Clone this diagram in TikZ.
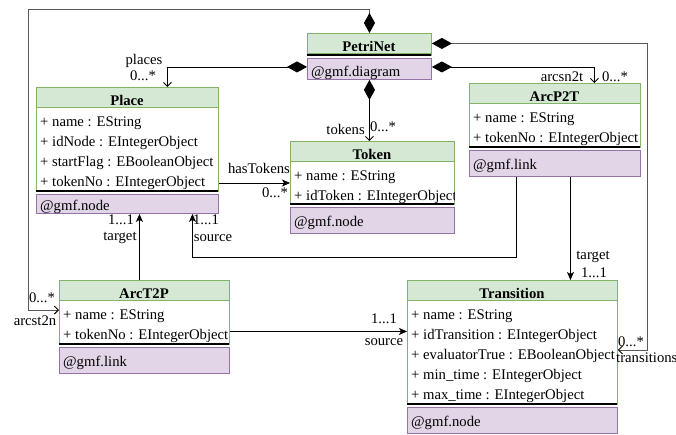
\documentclass[tikz,border=0pt]{standalone}
\usepackage{fontspec}
\setmainfont{Liberation Serif}
\usetikzlibrary{arrows.meta,calc}

\definecolor{hdrfill}{HTML}{D5E8D4}
\definecolor{hdrline}{HTML}{82B366}
\definecolor{opfill}{HTML}{E1D5E7}
\definecolor{opline}{HTML}{9673A6}

\tikzset{
  umlfont/.style={font=\fontsize{14.7}{17}\selectfont},
  hdrbox/.style={draw=hdrline, fill=hdrfill, line width=0.9pt, anchor=north west,
                 inner sep=0pt, minimum height=20pt},
  attrbox/.style={draw=hdrline, fill=white, line width=0.9pt, anchor=north west, inner sep=0pt},
  opbox/.style={draw=opline, fill=opfill, line width=0.9pt, anchor=north west, inner sep=0pt},
  sepline/.style={draw=black, line width=1.1pt},
  titletext/.style={umlfont, font=\fontsize{14.7}{17}\selectfont\bfseries, anchor=base, inner sep=0pt},
  rowtext/.style={umlfont, anchor=base west, inner sep=0pt},
  lbl/.style={umlfont, inner sep=0pt},
  conn/.style={line width=0.9pt, draw=black},
  loopline/.style={line width=0.9pt, draw=black!65},
  compose/.style={{Diamond[length=20pt,width=11pt,color=black,fill=black]}-{Straight Barb[length=4pt,width=8pt,color=black]}},
  refarrow/.style={-{Stealth[length=8pt,width=7pt,inset=2pt]}},
}

% id, left, top, width, title, attribute-area height, attribute rows, operation text, operation-area height
\newcommand{\umlclass}[9]{%
  \pgfmathsetmacro{\ucHb}{#3+20}%
  \pgfmathsetmacro{\ucSep}{\ucHb+#6}%
  \pgfmathsetmacro{\ucOp}{\ucSep+3}%
  \pgfmathsetmacro{\ucOpBase}{\ucOp+min(19.5,#9-2.5)}%
  \node[hdrbox, minimum width=#4pt] (#1H) at (#2,#3) {};
  \node[titletext] (#1T) at (#2+#4/2,\ucHb-1.5) {#5};
  \node[attrbox, minimum width=#4pt, minimum height=#6pt] (#1A) at (#2,\ucHb) {};
  \begin{scope}
    \clip (#1A.north west) rectangle (#1A.south east);
    \foreach \ucRow [count=\ucI] in {#7}
      \node[rowtext] (#1R\ucI) at (#2+4,\ucHb+20*\ucI-0.5) {\ucRow};
  \end{scope}
  \draw[sepline] (#2,\ucSep) -- ++(#4,0);
  \node[opbox, minimum width=#4pt, minimum height=#9pt] (#1O) at (#2,\ucOp) {};
  \node[rowtext] (#1M) at (#2+4,\ucOpBase) {#8};
}

\begin{document}
\begin{tikzpicture}[x=1pt,y=-1pt]
  \path[use as bounding box, fill=white] (0,0) rectangle (676,434);

  % classes
  \umlclass{petri}{307}{33}{124}{PetriNet}{2}{}{@gmf.diagram}{21}
  \umlclass{place}{36}{87}{182}{Place}{84}%
    {+ name : EString, + idNode : EIntegerObject, + startFlag : EBooleanObject, + tokenNo : EIntegerObject}%
    {@gmf.node}{19}
  \umlclass{token}{290}{141}{164}{Token}{43}%
    {+ name : EString, + idToken : EIntegerObject}{@gmf.node}{26}
  \umlclass{ptwo}{469}{83}{171}{ArcP2T}{44}%
    {+ name : EString, + tokenNo : EIntegerObject}{@gmf.link}{26}
  \umlclass{ttwo}{59}{280}{170}{ArcT2P}{44}%
    {+ name : EString, + tokenNo : EIntegerObject}{@gmf.link}{26}
  \umlclass{trans}{407}{280}{210}{Transition}{104}%
    {+ name : EString, + idTransition : EIntegerObject, + evaluatorTrue : EBooleanObject, + min\_time : EIntegerObject, + max\_time : EIntegerObject}%
    {@gmf.node}{26}

  % helper points for connector bends
  \coordinate (topleft) at (28,9);
  \coordinate (trin) at (647,350);
  \coordinate (petriW) at ([yshift=2pt]petriO.west);
  \coordinate (petriE) at ([yshift=2pt]petriO.east);
  \coordinate (placeIn) at ([xshift=40pt]placeH.north);
  \coordinate (ptwoIn) at ([xshift=39.5pt]ptwoH.north);
  \coordinate (ttwoIn) at ([yshift=-10pt]ttwoA.north west);
  \coordinate (ttwoUp) at ([xshift=-5pt]ttwoH.north);
  \coordinate (ptwoSrc) at ([xshift=-38.5pt]ptwoO.south);
  \coordinate (placeSrc) at ([xshift=65pt]placeO.south);
  \coordinate (ttwoOut) at ([yshift=-9pt]ttwoA.east);
  \coordinate (ptwoTgt) at ([xshift=15.5pt]ptwoO.south);

  % containment from PetriNet
  \draw[loopline, compose] (petriH.north) |- (topleft) |- (ttwoIn);
  \draw[conn, compose] (petriW) -| (placeIn);
  \draw[conn, compose] (petriO.south) -- (petriO.south |- tokenH.north);
  \draw[loopline, compose] (petriH.east) -| (trin) -- (trin -| transA.east);
  \draw[conn, compose] (petriE) -| (ptwoIn);

  % references
  \draw[conn, refarrow] (placeA.east |- placeR4) -- (tokenA.west |- placeR4);
  \draw[conn, refarrow] (ttwoUp) -- (ttwoUp |- placeO.south);
  \draw[conn, refarrow] (ptwoSrc) |- ($(placeSrc)+(0,44)$) -- (placeSrc);
  \draw[conn, refarrow] (ttwoOut) -- (ttwoOut -| transA.west);
  \draw[conn, refarrow] (ptwoTgt) -- (ptwoTgt |- transH.north);

  % role names and multiplicities
  \node[lbl] (lPlaces) at (144,61) {places};
  \node[lbl] (lPlacesM) at (143,76) {0...*};
  \node[lbl, anchor=east] (lTokens) at (365,129) {tokens};
  \node[lbl] (lTokensM) at (383,127) {0...*};
  \node[lbl] (lArcsn) at (562,77) {arcsn2t};
  \node[lbl] (lArcsnM) at (615,77) {0...*};
  \node[lbl] (lTransM) at (631,342) {0...*};
  \node[lbl, anchor=west] (lTrans) at (616,358) {transitions};
  \node[lbl] (lArcstM) at (42,298) {0...*};
  \node[lbl] (lArcst) at (35,321) {arcst2n};
  \node[lbl] (lHas) at (259,168) {hasTokens};
  \node[lbl] (lHasM) at (275,193) {0...*};
  \node[lbl] (lTgtM) at (121,220) {1...1};
  \node[lbl] (lTgt) at (120,238) {target};
  \node[lbl] (lSrcM) at (206,220) {1...1};
  \node[lbl] (lSrc) at (213,238) {source};
  \node[lbl] (lSrc2M) at (384,319) {1...1};
  \node[lbl] (lSrc2) at (384,342) {source};
  \node[lbl] (lTgt2) at (593,257) {target};
  \node[lbl] (lTgt2M) at (594,273) {1...1};
\end{tikzpicture}
\end{document}
